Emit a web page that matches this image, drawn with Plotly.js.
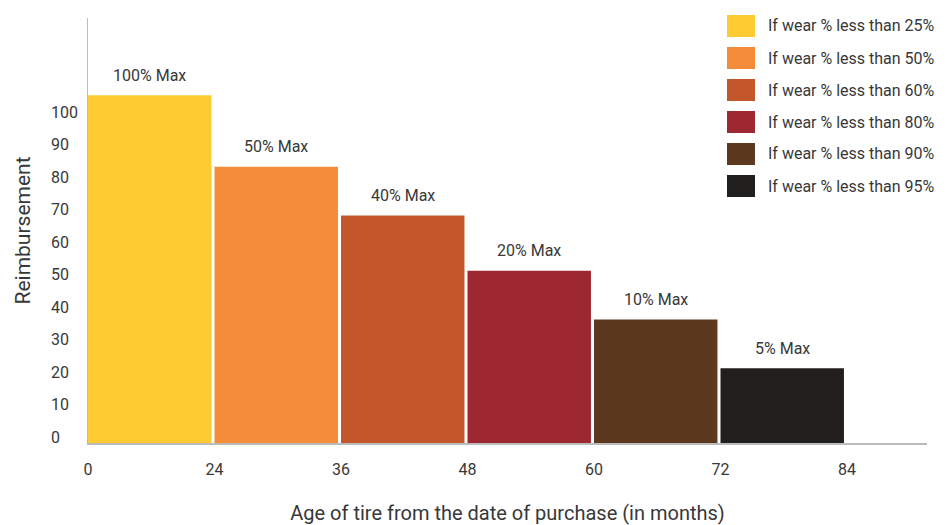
<!DOCTYPE html>
<html>
<head>
<meta charset="utf-8">
<script src="https://cdn.plot.ly/plotly-3.0.1.min.js"></script>
<style>html,body{margin:0;padding:0;background:#fff;}#chart{width:951px;height:525px;}</style>
</head>
<body>
<div id="chart"></div>
<script>
// ---- data ----
const ageTicks = ['0', '24', '36', '48', '60', '72', '84'];
const seriesNames = ['If wear % less than 25%', 'If wear % less than 50%', 'If wear % less than 60%',
                     'If wear % less than 80%', 'If wear % less than 90%', 'If wear % less than 95%'];
const reimbursement = [107, 85, 70, 53, 38, 23];
const barLabels = ['100% Max', '50% Max', '40% Max', '20% Max', '10% Max', '5% Max'];
const barColors = ['#FFCB32', '#F48C3A', '#C4562B', '#9E2832', '#5C381E', '#201F1E'];
const yTicks = [0, 10, 20, 30, 40, 50, 60, 70, 80, 90, 100];

// ---- layout geometry ----
const W = 951, H = 525;
const M = {l: 88, r: 24, t: 18, b: 82};
const plotW = W - M.l - M.r, plotH = H - M.t - M.b;
const px = v => (v - M.l) / plotW;          // pixel x -> paper
const py = v => (H - M.b - v) / plotH;      // pixel y -> paper
const FONT = 'Roboto, "Open Sans", sans-serif';
const TXT = '#383838';

const barWidth = 0.976;
const traces = reimbursement.map((v, i) => ({
  type: 'bar',
  x: [i],
  y: [v],
  width: [barWidth],
  offset: 0,
  name: seriesNames[i],
  marker: {color: barColors[i], line: {width: 0}},
  showlegend: false,
  hoverinfo: 'skip'
}));

const annotations = [];
// bar value labels
reimbursement.forEach((v, i) => {
  annotations.push({
    x: i + barWidth / 2, y: v, xref: 'x', yref: 'y',
    text: barLabels[i], showarrow: false, yshift: 20,
    xanchor: 'center', yanchor: 'middle',
    font: {family: FONT, size: 16, color: TXT}
  });
});
// y tick labels (left aligned)
yTicks.forEach(t => {
  annotations.push({
    x: px(49), y: t, xref: 'paper', yref: 'y',
    text: String(t), showarrow: false, yshift: 6,
    xanchor: 'left', yanchor: 'middle',
    font: {family: FONT, size: 16, color: TXT}
  });
});
// custom legend
const shapes = [];
seriesNames.forEach((n, i) => {
  const cy = 26 + 32 * i;
  shapes.push({
    type: 'rect', xref: 'paper', yref: 'paper',
    x0: px(727), x1: px(755), y0: py(cy - 11), y1: py(cy + 11),
    fillcolor: barColors[i], line: {width: 0}
  });
  annotations.push({
    x: px(766), y: py(cy), xref: 'paper', yref: 'paper',
    text: n, showarrow: false, xanchor: 'left', yanchor: 'middle',
    font: {family: FONT, size: 16, color: TXT}
  });
});

const layout = {
  width: W, height: H,
  margin: M,
  paper_bgcolor: '#fff', plot_bgcolor: '#fff',
  showlegend: false,
  font: {family: FONT, color: TXT},
  xaxis: {
    range: [0, plotW / 126.5],
    tickmode: 'array',
    tickvals: ageTicks.map((_, i) => i),
    ticktext: ageTicks,
    ticks: '', showgrid: false, zeroline: false,
    showline: true, linecolor: '#bbbbbb', linewidth: 1.5,
    tickfont: {family: FONT, size: 16, color: TXT},
    ticklabelstandoff: 11,
    title: {text: 'Age of tire from the date of purchase (in months)', standoff: 28,
            font: {family: FONT, size: 20, color: TXT}},
    fixedrange: true
  },
  yaxis: {
    range: [0, plotH / 3.25],
    showticklabels: false, ticks: '', showgrid: false, zeroline: false,
    showline: true, linecolor: '#bbbbbb', linewidth: 1.5,
    title: {text: 'Reimbursement', standoff: 50,
            font: {family: FONT, size: 21, color: TXT}},
    fixedrange: true
  },
  annotations: annotations,
  shapes: shapes
};

Plotly.newPlot('chart', traces, layout, {displayModeBar: false, staticPlot: true});
</script>
</body>
</html>
